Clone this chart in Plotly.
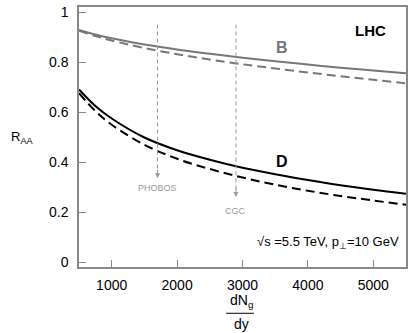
import plotly.graph_objects as go

# curve values
dndy = [500, 750, 1000, 1500, 2000, 2500, 3000, 3500, 4000, 4500, 5000, 5500]
b_solid = [0.928, 0.910, 0.895, 0.870, 0.850, 0.833, 0.817, 0.803, 0.790, 0.777, 0.766, 0.755]
b_dashed = [0.925, 0.904, 0.886, 0.856, 0.831, 0.810, 0.791, 0.774, 0.758, 0.743, 0.729, 0.715]
d_solid = [0.690, 0.624, 0.574, 0.498, 0.447, 0.409, 0.377, 0.351, 0.328, 0.307, 0.289, 0.273]
d_dashed = [0.675, 0.604, 0.549, 0.469, 0.413, 0.372, 0.338, 0.309, 0.285, 0.264, 0.246, 0.229]

# vertical markers
marker_names = ['PHOBOS', 'CGC']
marker_x = [1700, 2900]
marker_top = [0.95, 0.95]
marker_tip = [0.335, 0.26]
marker_label_y = [0.296, 0.205]

gray = '#777777'
fig = go.Figure()
fig.add_trace(go.Scatter(x=dndy, y=b_solid, mode='lines', line=dict(color=gray, width=2, shape='spline')))
fig.add_trace(go.Scatter(x=dndy, y=b_dashed, mode='lines', line=dict(color=gray, width=2, dash='9px,5px', shape='spline')))
fig.add_trace(go.Scatter(x=dndy, y=d_solid, mode='lines', line=dict(color='black', width=2, shape='spline')))
fig.add_trace(go.Scatter(x=dndy, y=d_dashed, mode='lines', line=dict(color='black', width=2, dash='9px,5px', shape='spline')))

for name, mx, top, tip, ly in zip(marker_names, marker_x, marker_top, marker_tip, marker_label_y):
    fig.add_trace(go.Scatter(x=[mx, mx], y=[top, tip + 0.01], mode='lines',
                             line=dict(color='#999999', width=1, dash='4px,3px')))
    fig.add_annotation(x=mx, y=tip, ax=mx, ay=tip + 0.04, xref='x', yref='y', axref='x', ayref='y',
                       showarrow=True, arrowhead=2, arrowsize=1, arrowwidth=1, arrowcolor='#999999', text='')
    fig.add_annotation(x=mx, y=ly, text=name, showarrow=False,
                       font=dict(size=9, color='#999999'))

fig.add_annotation(x=3610, y=0.858, text='<b>B</b>', showarrow=False, font=dict(size=16, color=gray))
fig.add_annotation(x=3610, y=0.403, text='<b>D</b>', showarrow=False, font=dict(size=16, color='black'))
fig.add_annotation(x=4950, y=0.925, text='<b>LHC</b>', showarrow=False, font=dict(size=15, color='black'))
fig.add_annotation(x=5420, y=0.079, xanchor='right', text='√s =5.5 TeV, p<sub>⊥</sub>=10 GeV',
                   showarrow=False, font=dict(size=13, color='black'))

# axis titles
fig.add_annotation(xref='paper', yref='paper', x=-0.174, y=0.5, xanchor='center', text='R<sub>AA</sub>',
                   showarrow=False, font=dict(size=13, color='black'))
fig.add_annotation(xref='paper', yref='paper', x=0.498, y=-0.170, yanchor='bottom', text='dN<sub>g</sub>',
                   showarrow=False, font=dict(size=14, color='black'), borderpad=0)
fig.add_annotation(xref='paper', yref='paper', x=0.498, y=-0.185, yanchor='top', text='dy',
                   showarrow=False, font=dict(size=14, color='black'), borderpad=0)
fig.add_shape(type='line', xref='paper', yref='paper', x0=0.450, x1=0.535, y0=-0.178, y1=-0.178,
              line=dict(color='black', width=1))

axis_common = dict(showgrid=False, zeroline=False, showline=True, linecolor='#888888', linewidth=1.5,
                   mirror=True, ticks='inside', ticklen=7, tickcolor='#888888',
                   tickfont=dict(size=14, color='black'))
fig.update_xaxes(range=[500, 5500], tickvals=[1000, 2000, 3000, 4000, 5000], ticklabelstandoff=4,
                 **axis_common)
fig.update_yaxes(range=[-0.02, 1.02], tickvals=[0, 0.2, 0.4, 0.6, 0.8, 1],
                 ticktext=['0', '0.2', '0.4', '0.6', '0.8', '1'], ticklabelstandoff=6, **axis_common)
fig.update_layout(width=415, height=333, margin=dict(l=79, r=9, t=4, b=66),
                  plot_bgcolor='white', paper_bgcolor='white', showlegend=False,
                  font=dict(family='Liberation Sans, Arial, sans-serif'))
fig.write_html('out.html', config={'displayModeBar': False},
               post_script="document.body.style.margin='0';")
